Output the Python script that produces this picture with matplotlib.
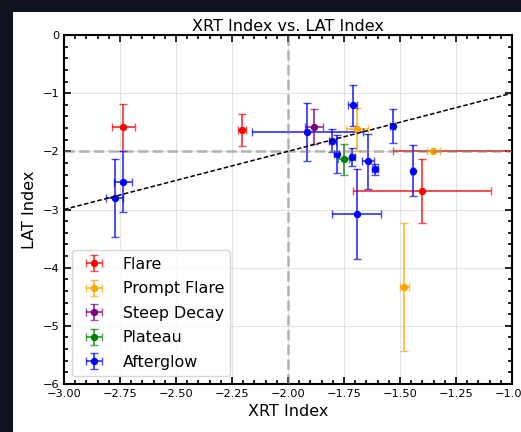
import numpy as np
import matplotlib
matplotlib.use("Agg")
import matplotlib.pyplot as plt
from matplotlib.patches import Rectangle
from matplotlib.ticker import AutoMinorLocator

# values
flare_x = [-2.735, -2.204, -1.402, -0.90]
flare_y = [-1.59, -1.63, -2.69, -2.00]
flare_xerr = [0.05, 0.017, 0.31, 0.633]
flare_yerr = [0.40, 0.27, 0.55, 0.30]

prompt_x = [-1.693, -1.351, -1.482]
prompt_y = [-1.62, -2.00, -4.33]
prompt_xerr = [0.05, 0.03, 0.02]
prompt_yerr = [0.37, 0.0, 1.10]

steep_x = [-1.883]
steep_y = [-1.58]
steep_xerr = [0.04]
steep_yerr = [0.30]

plateau_x = [-1.751]
plateau_y = [-2.14]
plateau_xerr = [0.024]
plateau_yerr = [0.27]

after_x = [-2.735, -2.774, -1.914, -1.711, -1.802, -1.783, -1.713, -1.643,
           -1.612, -1.533, -1.444, -1.693]
after_y = [-2.52, -2.80, -1.67, -1.21, -1.82, -2.05, -2.10, -2.17,
           -2.31, -1.56, -2.33, -3.08]
after_xerr = [0.04, 0.038, 0.248, 0.02, 0.015, 0.012, 0.01, 0.028,
              0.015, 0.01, 0.008, 0.109]
after_yerr = [0.53, 0.67, 0.50, 0.35, 0.20, 0.33, 0.15, 0.47,
              0.10, 0.29, 0.44, 0.77]

groups = [
    ("Flare", "red", flare_x, flare_y, flare_xerr, flare_yerr),
    ("Prompt Flare", "orange", prompt_x, prompt_y, prompt_xerr, prompt_yerr),
    ("Steep Decay", "purple", steep_x, steep_y, steep_xerr, steep_yerr),
    ("Plateau", "green", plateau_x, plateau_y, plateau_xerr, plateau_yerr),
    ("Afterglow", "blue", after_x, after_y, after_xerr, after_yerr),
]

fig = plt.figure(figsize=(5.21, 4.32), dpi=100)
fig.patch.set_facecolor("#0f1320")
# white page inside the dark screenshot frame
fig.patches.append(Rectangle((13 / 521, 0), 1, 420 / 432, transform=fig.transFigure,
                             facecolor="white", edgecolor="none", zorder=-10))
ax = fig.add_axes([64 / 521, 48 / 432, 448 / 521, 349 / 432])

ax.axvline(-2, color="gray", ls="--", lw=2, alpha=0.5, zorder=3)
ax.axhline(-2, color="gray", ls="--", lw=2, alpha=0.5, zorder=3)

for name, c, x, y, xe, ye in groups:
    ecol = matplotlib.colors.to_rgba(c, 0.7)
    ax.errorbar(x, y, xerr=xe, yerr=ye, fmt="o", color=c, ecolor=ecol,
                markersize=4.3, capsize=3, elinewidth=1.4, label=name, zorder=2)

line = np.array([-3, -1])
ax.plot(line, line, color="black", ls="--", lw=1.1, dashes=(3, 1.5), zorder=4)

ax.set_xlim(-3, -1)
ax.set_ylim(-6, 0)
ax.set_xticks([-3, -2.75, -2.5, -2.25, -2, -1.75, -1.5, -1.25, -1])
ax.xaxis.set_minor_locator(AutoMinorLocator(5))
ax.yaxis.set_minor_locator(AutoMinorLocator(5))
ax.tick_params(which="both", direction="in", top=True, right=True, labelsize=8.2, width=1.2)
ax.tick_params(which="major", length=5)
ax.tick_params(which="minor", length=3)
for s in ax.spines.values():
    s.set_linewidth(1.5)
ax.grid(True, color="#dddddd", lw=0.8, alpha=0.8)
ax.set_axisbelow(True)

ax.set_xlabel("XRT Index", fontsize=11.5)
ax.set_ylabel("LAT Index", fontsize=11.5)
ax.set_title("XRT Index vs. LAT Index", fontsize=11.5, pad=3)
ax.legend(loc="lower left", fontsize=11.4, handlelength=2.0, labelspacing=0.6)

fig.savefig("out.png", dpi=100, facecolor=fig.get_facecolor())
